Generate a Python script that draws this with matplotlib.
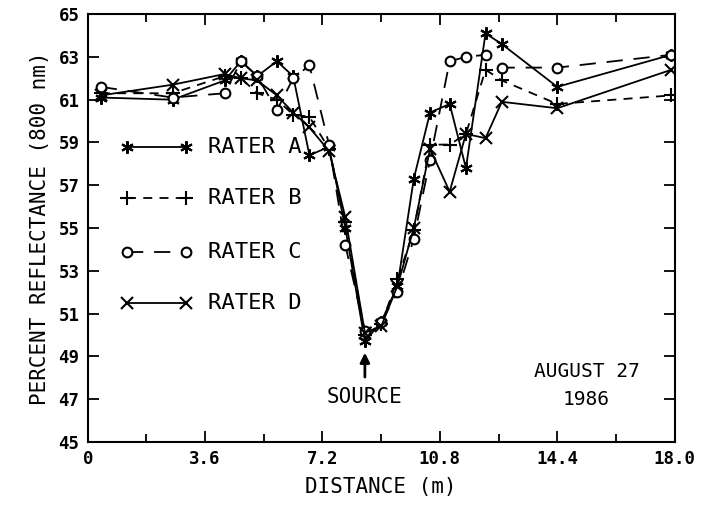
import matplotlib
matplotlib.use("Agg")
import matplotlib.pyplot as plt
from matplotlib.ticker import MultipleLocator

plt.rcParams["font.family"] = ["DejaVu Sans Mono", "DejaVu Sans"]

# distancia (m) de cada punto de muestreo
distancia = [0.4, 2.6, 4.2, 4.7, 5.2, 5.8, 6.3, 6.8, 7.4, 7.9, 8.5,
             9.0, 9.5, 10.0, 10.5, 11.1, 11.6, 12.2, 12.7, 14.4, 17.9]

# reflectancia (%) leida para cada evaluador
rater_a = [61.1, 61.0, 61.9, 62.8, 62.1, 62.8, 62.1, 58.4, 58.8, 55.0, 49.7,
           50.6, 52.3, 57.3, 60.4, 60.8, 57.8, 64.1, 63.6, 61.6, 63.1]
rater_b = [61.3, 61.3, 62.1, 62.0, 61.3, 61.0, 60.3, 60.2, 58.7, 55.3, 50.0,
           50.5, 52.6, 54.9, 58.9, 58.9, 59.4, 62.4, 61.9, 60.8, 61.2]
rater_c = [61.6, 61.1, 61.3, 62.8, 62.1, 60.5, 62.0, 62.6, 58.9, 54.2, 50.2,
           50.6, 52.0, 54.5, 58.2, 62.8, 63.0, 63.1, 62.5, 62.5, 63.1]
rater_d = [61.2, 61.7, 62.2, 62.0, 61.9, 61.2, 60.4, 59.7, 58.6, 55.5, 50.1,
           50.4, 52.3, 55.0, 58.7, 56.7, 59.4, 59.2, 60.9, 60.6, 62.4]

nombres = ["RATER A", "RATER B", "RATER C", "RATER D"]
x_ticks = [0, 3.6, 7.2, 10.8, 14.4, 18.0]
x_labels = ["0", "3.6", "7.2", "10.8", "14.4", "18.0"]
y_ticks = list(range(45, 66, 2))

# estilo de cada serie: marcador, linea
estilos = [
    dict(marker=(6, 2, 0), markersize=9, linestyle="-"),
    dict(marker="+", markersize=10, linestyle=(0, (5, 4))),
    dict(marker="o", markersize=7, linestyle=(0, (9, 6)), markerfacecolor="white"),
    dict(marker="x", markersize=9, linestyle="-"),
]

fig = plt.figure(figsize=(7.02, 5.05), dpi=100)
ax = fig.add_axes([0.125, 0.125, 0.836, 0.847])

series = [rater_a, rater_b, rater_c, rater_d]
for valores, est in zip(series, estilos):
    ax.plot(distancia, valores, color="black", linewidth=1.3,
            markeredgewidth=1.5, **est)

# leyenda dibujada a mano dentro del grafico
fila_y = [58.8, 56.4, 53.9, 51.5]
for y, nombre, est in zip(fila_y, nombres, estilos):
    ax.plot([1.2, 3.0], [y, y], color="black", linewidth=1.3,
            markeredgewidth=1.5, **est)
    ax.text(3.7, y, nombre, fontsize=16, va="center", ha="left")

# fuente
ax.annotate("", xy=(8.5, 49.3), xytext=(8.5, 47.9),
            arrowprops=dict(arrowstyle="-|>", color="black", lw=2,
                            mutation_scale=14))
ax.text(8.5, 47.1, "SOURCE", fontsize=15, ha="center", va="center")
ax.text(15.3, 48.3, "AUGUST 27", fontsize=14, ha="center", va="center")
ax.text(15.3, 47.0, "1986", fontsize=14, ha="center", va="center")

ax.set_xlim(0, 18)
ax.set_ylim(45, 65)
ax.set_xticks(x_ticks)
ax.set_xticklabels(x_labels, fontweight="bold", fontsize=12.5)
ax.xaxis.set_minor_locator(MultipleLocator(1.8))
ax.set_yticks(y_ticks)
ax.set_yticklabels([str(v) for v in y_ticks], fontweight="bold", fontsize=12.5)
ax.tick_params(which="both", direction="in", top=True, right=True, width=1.3)
ax.tick_params(which="major", length=8, pad=6)
ax.tick_params(which="minor", length=6)
for lado in ax.spines.values():
    lado.set_linewidth(1.5)

ax.set_xlabel("DISTANCE (m)", fontsize=15, labelpad=6)
ax.set_ylabel("PERCENT REFLECTANCE (800 nm)", fontsize=15, labelpad=6)

fig.savefig("out.png", dpi=100)
